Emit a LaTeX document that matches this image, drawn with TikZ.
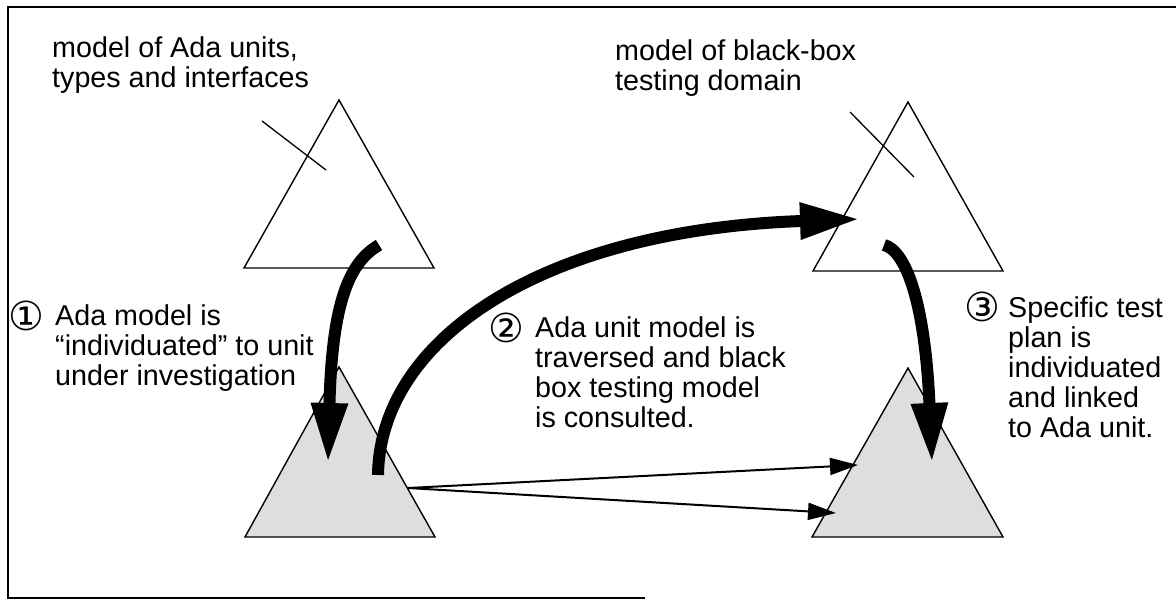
\documentclass[tikz,border=0pt]{standalone}
\usepackage{fontspec}
\setmainfont{Liberation Sans}
\newfontfamily\circfont{DejaVu Sans}
\usetikzlibrary{arrows.meta}
\begin{document}
\begin{tikzpicture}[x=1pt,y=-1pt,
  tri/.style={draw=black,line width=1.4pt,line join=miter},
  shaded/.style={tri,fill=black!13},
  tickline/.style={draw=black,line width=1.3pt},
  bigarrow/.style={draw=black,line width=12pt,-{Triangle[length=60pt,width=34pt]}},
  thinarrow/.style={draw=black,line width=2pt,-{Triangle[length=28pt,width=17pt]}},
  lbl/.style={anchor=base west,inner sep=0pt,font=\fontsize{28.7}{30}\selectfont},
  num/.style={anchor=center,inner sep=0pt,font=\circfont\fontsize{40}{40}\selectfont},
  framestyle/.style={draw=black,line width=1.6pt}]
\useasboundingbox (0,0) rectangle (1176,600);
% frame
\coordinate (fTR) at (1176,7);
\coordinate (fTL) at (8,7);
\coordinate (fBL) at (8,598);
\coordinate (fBR) at (645,598);
\draw[framestyle] (fTR) -- (fTL) -- (fBL) -- (fBR);
% triangles
\coordinate (tlA) at (339,100); \coordinate (tlL) at (244,268); \coordinate (tlR) at (434,268);
\coordinate (trA) at (908,102); \coordinate (trL) at (813,271); \coordinate (trR) at (1003,271);
\coordinate (blA) at (339,367); \coordinate (blL) at (245,537); \coordinate (blR) at (435,537);
\coordinate (brA) at (908,368); \coordinate (brL) at (812,537); \coordinate (brR) at (1003,537);
\draw[tri] (tlA) -- (tlL) -- (tlR) -- cycle;
\draw[tri] (trA) -- (trL) -- (trR) -- cycle;
\draw[shaded] (blA) -- (blL) -- (blR) -- cycle;
\draw[shaded] (brA) -- (brL) -- (brR) -- cycle;
% ticks
\coordinate (k1a) at (262,121); \coordinate (k1b) at (326,170);
\coordinate (k2a) at (850,112); \coordinate (k2b) at (914,177);
\draw[tickline] (k1a) -- (k1b);
\draw[tickline] (k2a) -- (k2b);
% labels
\node[lbl] (topL) at (52,57) {\vtop{\hbox{model of Ada units,}\hbox{types and interfaces}}};
\node[lbl] (topR) at (615,60) {\vtop{\hbox{model of black-box}\hbox{testing domain}}};
\node[num] (n1) at (26,316) {①};
\node[lbl] (s1) at (55,325) {\vtop{\hbox{Ada model is}\hbox{“individuated” to unit}\hbox{under investigation}}};
\node[num] (n2) at (506,328) {②};
\node[lbl] (s2) at (535,337) {\vtop{\hbox{Ada unit model is}\hbox{traversed and black}\hbox{box testing model}\hbox{is consulted.}}};
\node[num] (n3) at (982,307) {③};
\node[lbl] (s3) at (1008,317) {\vtop{\hbox{Specific test}\hbox{plan is}\hbox{individuated}\hbox{and linked}\hbox{to Ada unit.}}};
% arrows
\coordinate (a1s) at (379,245); \coordinate (a1e) at (328,463);
\coordinate (a2s) at (378,475); \coordinate (a2e) at (860,219);
\coordinate (a3s) at (884,245); \coordinate (a3e) at (932,463);
\coordinate (t0) at (408,488); \coordinate (t1) at (858,465); \coordinate (t2) at (836,513);
\draw[thinarrow] (t0) -- (t1);
\draw[thinarrow] (t0) -- (t2);
\draw[bigarrow] (a1s) .. controls (350,262) and (332,300) .. (a1e);
\draw[bigarrow] (a2s) .. controls (380,340) and (540,230) .. (a2e);
\draw[bigarrow] (a3s) .. controls (905,250) and (925,300) .. (a3e);
\end{tikzpicture}
\end{document}
